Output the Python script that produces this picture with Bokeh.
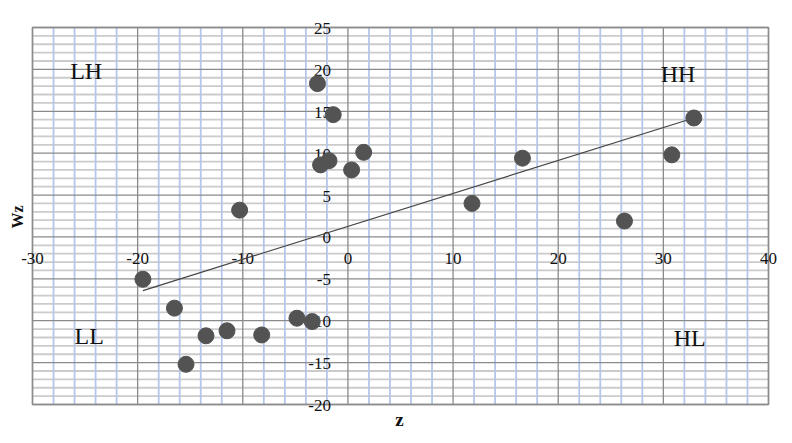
import numpy as np
from bokeh.plotting import figure
from bokeh.models import ColumnDataSource
from bokeh.embed import file_html
from bokeh.resources import INLINE
from bokeh.core.properties import value

# data
z_vals = [-2.9, -1.4, 1.5, -2.6, -1.8, 0.35, -10.3, 32.9, 30.8, 16.6, 11.8, 26.3,
          -19.5, -16.5, -15.4, -13.5, -11.5, -8.2, -4.85, -3.4]
wz_vals = [18.3, 14.6, 10.1, 8.6, 9.1, 8.0, 3.2, 14.2, 9.8, 9.4, 4.0, 1.9,
           -5.05, -8.5, -15.2, -11.8, -11.2, -11.7, -9.7, -10.1]
trend_z = [-19.5, 32.9]
trend_wz = [-6.4, 14.2]
x_ticks = [-30, -20, -10, 0, 10, 20, 30, 40]
y_ticks = [-20, -15, -10, -5, 0, 5, 10, 15, 20, 25]
x_minor_step = 2
y_minor_step = 1
quad_names = ["LH", "HH", "LL", "HL"]
quad_z = [-24.9, 31.4, -24.6, 32.5]
quad_wz = [19.8, 19.5, -11.8, -12.1]

SERIF = "Liberation Serif"

W, H = 784, 435
ML, MR, MT, MB = 32, 16, 27, 31  # space around the plotting area, px
xmin, xmax = x_ticks[0], x_ticks[-1]
ymin, ymax = y_ticks[0], y_ticks[-1]
sx = (W - ML - MR) / (xmax - xmin)
sy = (H - MT - MB) / (ymax - ymin)

p = figure(width=W, height=H, output_backend="svg", toolbar_location=None,
           x_range=(xmin - ML / sx, xmax + MR / sx),
           y_range=(ymin - MB / sy, ymax + MT / sy),
           min_border=0)
p.axis.visible = False
p.grid.visible = False
p.outline_line_color = None

# grid
xminor = [v for v in np.arange(xmin, xmax + 0.001, x_minor_step) if v not in x_ticks]
yminor = [v for v in np.arange(ymin, ymax + 0.001, y_minor_step) if v not in y_ticks]
p.segment(x0=[xmin] * len(yminor), x1=[xmax] * len(yminor), y0=yminor, y1=yminor,
          line_color="#cbcbcb", line_width=1.8)
p.segment(x0=xminor, x1=xminor, y0=[ymin] * len(xminor), y1=[ymax] * len(xminor),
          line_color="#b4c6ea", line_width=1.8)
p.segment(x0=[xmin] * len(y_ticks), x1=[xmax] * len(y_ticks), y0=y_ticks, y1=y_ticks,
          line_color="#8a8a8a", line_width=1.3)
p.segment(x0=x_ticks, x1=x_ticks, y0=[ymin] * len(x_ticks), y1=[ymax] * len(x_ticks),
          line_color="#8a8a8a", line_width=1.3)
p.quad(left=[xmin], right=[xmax], bottom=[ymin], top=[ymax], fill_color=None,
       line_color="#8c8c8c", line_width=1.5)

# tick labels along the axes crossing at zero
xsrc = ColumnDataSource(dict(x=x_ticks, y=[0] * len(x_ticks), t=[str(v) for v in x_ticks]))
p.text(x="x", y="y", text="t", source=xsrc, text_align="center", text_baseline="middle",
       y_offset=22, text_font=value(SERIF), text_font_size="17px", text_color="#111111")
ysrc = ColumnDataSource(dict(x=[0] * len(y_ticks), y=y_ticks, t=[str(v) for v in y_ticks]))
p.text(x="x", y="y", text="t", source=ysrc, text_align="right", text_baseline="middle",
       x_offset=-17, y_offset=1, text_font=value(SERIF), text_font_size="17px",
       text_color="#111111")

# quadrant names
qsrc = ColumnDataSource(dict(x=quad_z, y=quad_wz, t=quad_names))
p.text(x="x", y="y", text="t", source=qsrc, text_align="center", text_baseline="middle",
       text_font=value(SERIF), text_font_size="24px", text_color="#111111")

# trend line
p.line(trend_z, trend_wz, line_color="#444444", line_width=1.2)

# points
p.scatter(z_vals, wz_vals, size=16, fill_color="#535353", line_color="#535353")

# axis titles
p.text(x=[xmin - 15 / sx], y=[2.4], text=["Wz"], angle=np.pi / 2,
       text_align="center", text_baseline="middle", text_font=value(SERIF),
       text_font_size="16px", text_font_style="bold", text_color="#111111")
p.text(x=[4.9], y=[ymin - 15 / sy], text=["z"], text_align="center",
       text_baseline="middle", text_font=value(SERIF), text_font_size="19px",
       text_font_style="bold", text_color="#111111")

open("out.html", "w").write(file_html(p, INLINE))
